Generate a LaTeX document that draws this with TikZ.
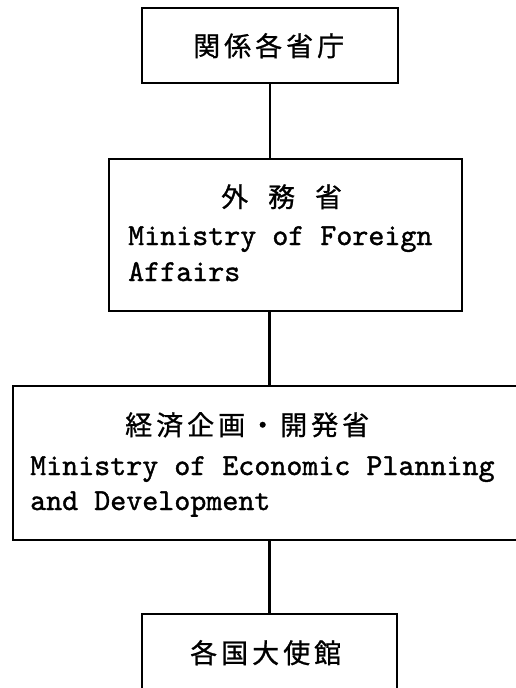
\documentclass[tikz,border=0pt]{standalone}
\usepackage{fontspec}
\newfontfamily\jpf[FakeBold=0.8]{Noto Sans CJK JP}
\newfontfamily\enf[FakeBold=1.2]{lmmono10-regular.otf}
\newcommand\jg{\hspace{4pt}}
\newcommand\jw{\hspace{15.9pt}}
\tikzset{
  orgbox/.style={draw=black, line width=2.4pt, fill=none, inner sep=0pt},
  conn/.style={draw=black, line width=2.2pt},
  jptext/.style={anchor=base west, inner sep=0pt, font=\jpf\fontsize{27pt}{27pt}\selectfont},
  entext/.style={anchor=base west, inner sep=0pt, font=\enf\fontsize{30.5pt}{30.5pt}\selectfont}
}
\begin{document}
\begin{tikzpicture}[x=1pt,y=-1pt]
\useasboundingbox (0,0) rectangle (515,688);
\fill[white] (0,0) rectangle (515,688);
% boxes
\node[orgbox, minimum width=256pt, minimum height=75pt] (b1) at (270,45.5) {};
\node[orgbox, minimum width=353pt, minimum height=152pt] (b2) at (285.5,235) {};
\node[orgbox, minimum width=505pt, minimum height=154pt] (b3) at (265.5,463) {};
\node[orgbox, minimum width=255pt, minimum height=80pt] (b4) at (269.5,654) {};
% connectors
\draw[conn] (b1.south) -- (b1.south |- b2.north);
\draw[conn] (b4.north |- b2.south) -- (b4.north |- b3.north);
\draw[conn] (b4.north |- b3.south) -- (b4.north);
% texts
\node[jptext] (t1) at (193,56) {関\jg 係\jg 各\jg 省\jg 庁};
\node[jptext] (t2a) at (221,207) {外\jg\jw 務\jg\jw 省};
\node[entext] (t2b) at (128,245) {Ministry of Foreign};
\node[entext] (t2c) at (128,281) {Affairs};
\node[jptext] (t3a) at (125,435) {経\jg 済\jg 企\jg 画\jg ・\jg 開\jg 発\jg 省};
\node[entext] (t3b) at (30,475) {Ministry of Economic Planning};
\node[entext] (t3c) at (30,510) {and Development};
\node[jptext] (t4) at (190,663) {各\jg 国\jg 大\jg 使\jg 館};
\end{tikzpicture}
\end{document}
